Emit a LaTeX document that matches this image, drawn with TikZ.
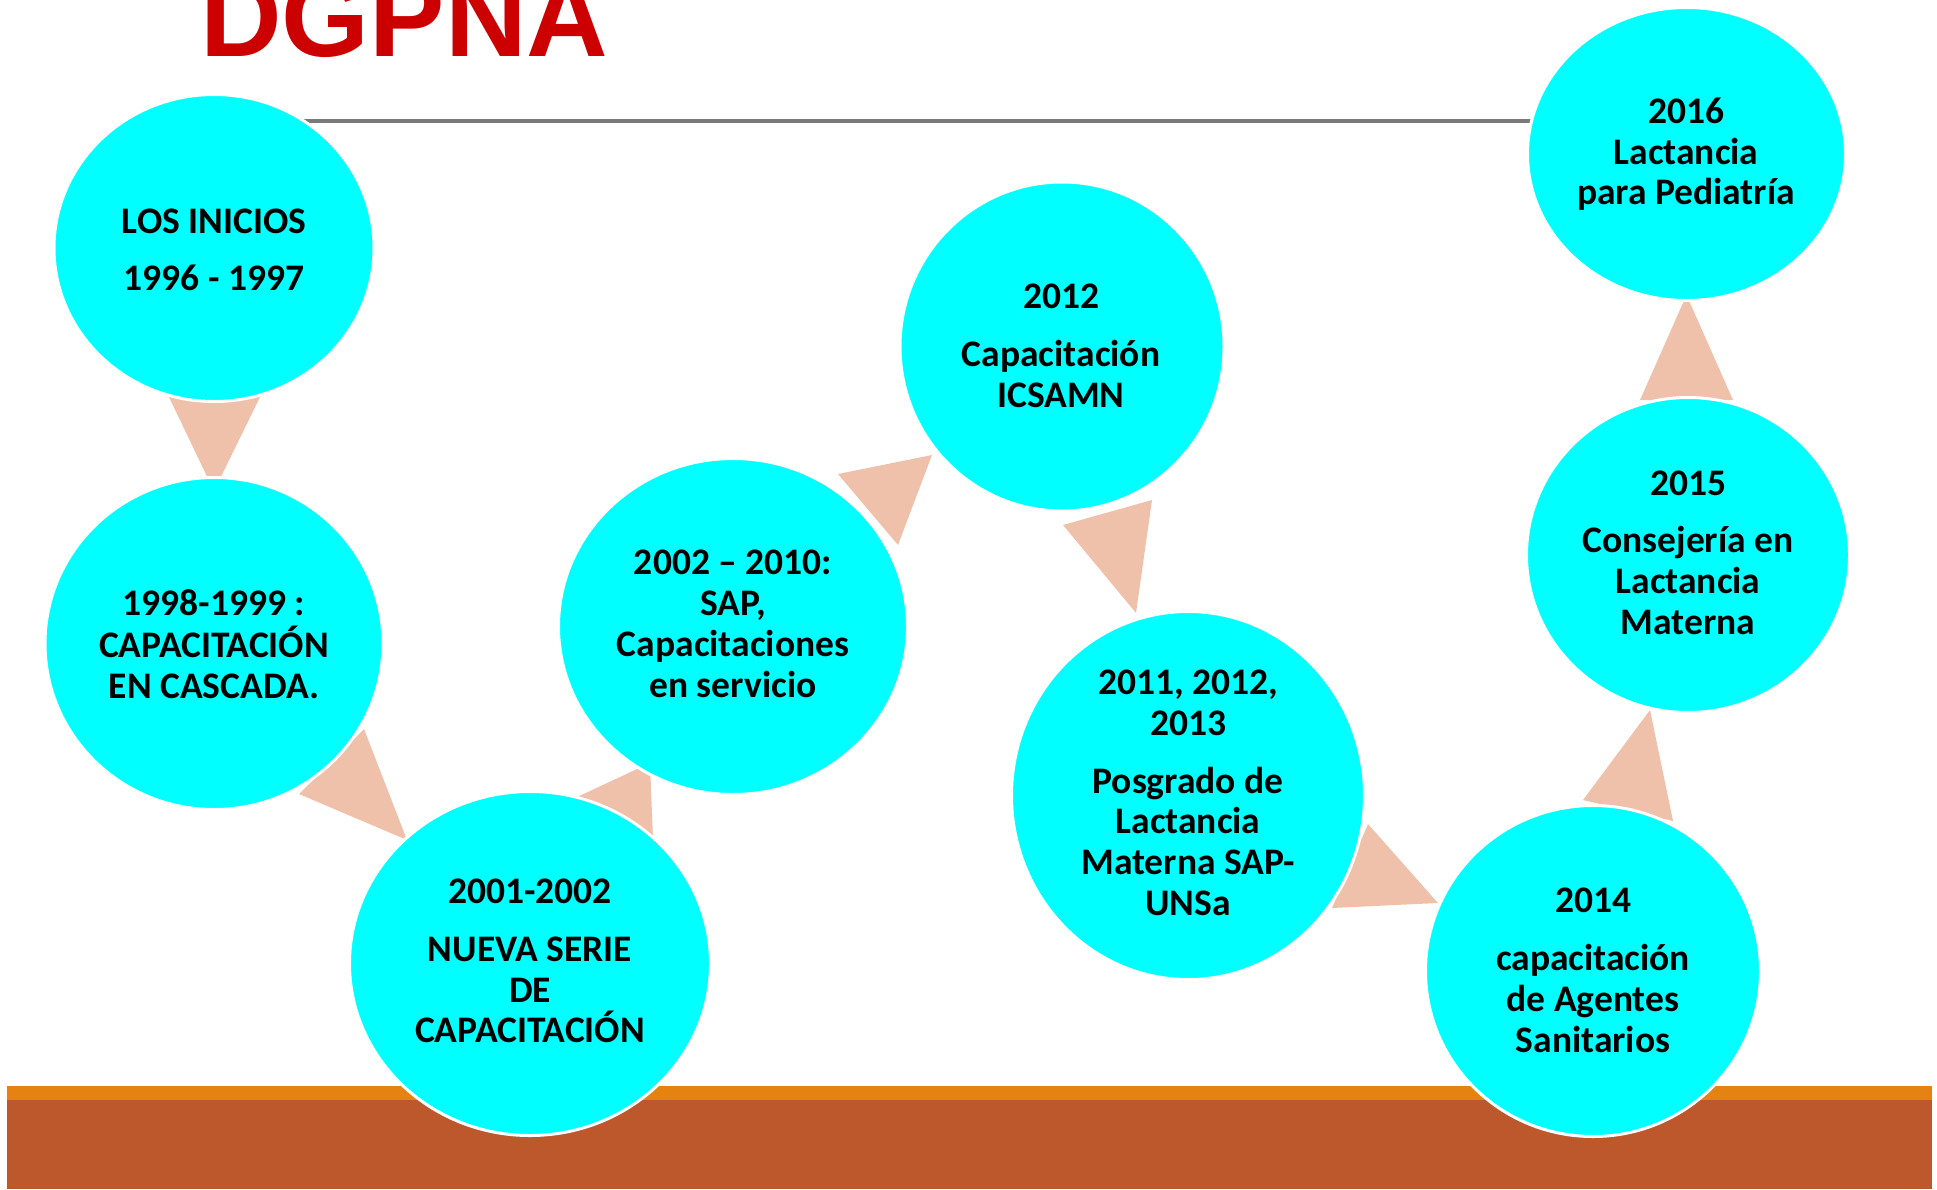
\documentclass[tikz,border=0pt]{standalone}
\usepackage{fontspec}
\setmainfont{Carlito}
\newfontfamily\titlefont{Liberation Sans}
\usetikzlibrary{shapes.geometric}
\definecolor{cyanfill}{HTML}{00FFFF}
\definecolor{arrowfill}{HTML}{EFC1AB}
\definecolor{bandorange}{HTML}{E48312}
\definecolor{bandbrown}{HTML}{BD582C}
\definecolor{titlered}{HTML}{CC0000}
\definecolor{rulegray}{HTML}{7A7A7A}
\tikzset{
  bubble/.style={ellipse, fill=cyanfill, draw=white, line width=3pt, inner sep=0pt, outer sep=0pt},
  tri/.style={fill=arrowfill, draw=none},
  txt/.style={anchor=base, inner sep=0pt, font=\fontsize{37.5}{42}\selectfont\bfseries, text=black},
}
\begin{document}
\begin{tikzpicture}[x=1pt,y=-1pt]
\useasboundingbox (0,0) rectangle (1937,1189);
% bottom band
\fill[bandbrown] (7,1099) rectangle (1932,1189);
\fill[bandorange] (7,1086) rectangle (1932,1100);
% title
\node[anchor=base west, inner sep=0pt, font=\titlefont\bfseries\fontsize{113}{120}\selectfont, text=titlered] (title) at (200,56) {DGPNA};
% gray rule
\coordinate (ruleA) at (214,121);
\coordinate (ruleB) at (1686,121);
\draw[rulegray, line width=3.4pt] (ruleA) -- (ruleB);
% arrows (triangles)
\fill[tri] (168,395) -- (261,395) -- (214,491) -- cycle;
\fill[tri] (364,729) -- (299,794) -- (407,840) -- cycle;
\fill[tri] (560,805) -- (654,865) -- (650,763) -- cycle;
\fill[tri] (838,474) -- (898,545) -- (932,455) -- cycle;
\fill[tri] (1063,525) -- (1152,500) -- (1136,613) -- cycle;
\fill[tri] (1368,824) -- (1332,908) -- (1438,903) -- cycle;
\fill[tri] (1583,800) -- (1673,821) -- (1650,710) -- cycle;
\fill[tri] (1640,400) -- (1733,400) -- (1686.5,295) -- cycle;
% circles
\node[bubble, minimum width=320pt, minimum height=307pt] (c1) at (214,248) {};
\node[bubble, minimum width=338pt, minimum height=332pt] (c2) at (214,643.5) {};
\node[bubble, minimum width=361pt, minimum height=344pt] (c3) at (530,963.5) {};
\node[bubble, minimum width=349pt, minimum height=336pt] (c4) at (733,626.5) {};
\node[bubble, minimum width=324pt, minimum height=329pt] (c5) at (1062,346.5) {};
\node[bubble, minimum width=353pt, minimum height=368pt] (c6) at (1188,795.5) {};
\node[bubble, minimum width=335pt, minimum height=331pt] (c7) at (1593,971) {};
\node[bubble, minimum width=323pt, minimum height=315pt] (c8) at (1688,555) {};
\node[bubble, minimum width=318pt, minimum height=293pt] (c9) at (1686.5,154) {};
% texts
\node[txt] (t1a) at (214,233) {LOS INICIOS};
\node[txt] (t1b) at (214,290) {1996 - 1997};
\node[txt] (t2a) at (214,615) {1998-1999 :};
\node[txt] (t2b) at (214,657) {CAPACITACIÓN};
\node[txt] (t2c) at (214,698) {EN CASCADA.};
\node[txt] (t3a) at (530,903) {2001-2002};
\node[txt] (t3b) at (530,961) {NUEVA SERIE};
\node[txt] (t3c) at (530,1002) {DE};
\node[txt] (t3d) at (530,1042) {CAPACITACIÓN};
\node[txt] (t4a) at (733,574) {2002 – 2010:};
\node[txt] (t4b) at (733,615) {SAP,};
\node[txt] (t4c) at (733,656) {Capacitaciones};
\node[txt] (t4d) at (733,697) {en servicio};
\node[txt] (t5a) at (1061,308) {2012};
\node[txt] (t5b) at (1061,366) {Capacitación};
\node[txt] (t5c) at (1061,407) {ICSAMN};
\node[txt] (t6a) at (1188,694) {2011, 2012,};
\node[txt] (t6b) at (1188,735) {2013};
\node[txt] (t6c) at (1188,793) {Posgrado de};
\node[txt] (t6d) at (1188,833) {Lactancia};
\node[txt] (t6e) at (1188,874) {Materna SAP-};
\node[txt] (t6f) at (1188,915) {UNSa};
\node[txt] (t7a) at (1593,912) {2014};
\node[txt] (t7b) at (1593,970) {capacitación};
\node[txt] (t7c) at (1593,1011) {de Agentes};
\node[txt] (t7d) at (1593,1052) {Sanitarios};
\node[txt] (t8a) at (1688,495) {2015};
\node[txt] (t8b) at (1688,552) {Consejería en};
\node[txt] (t8c) at (1688,593) {Lactancia};
\node[txt] (t8d) at (1688,634) {Materna};
\node[txt] (t9a) at (1686,123) {2016};
\node[txt] (t9b) at (1686,164) {Lactancia};
\node[txt] (t9c) at (1686,204) {para Pediatría};
\end{tikzpicture}
\end{document}
